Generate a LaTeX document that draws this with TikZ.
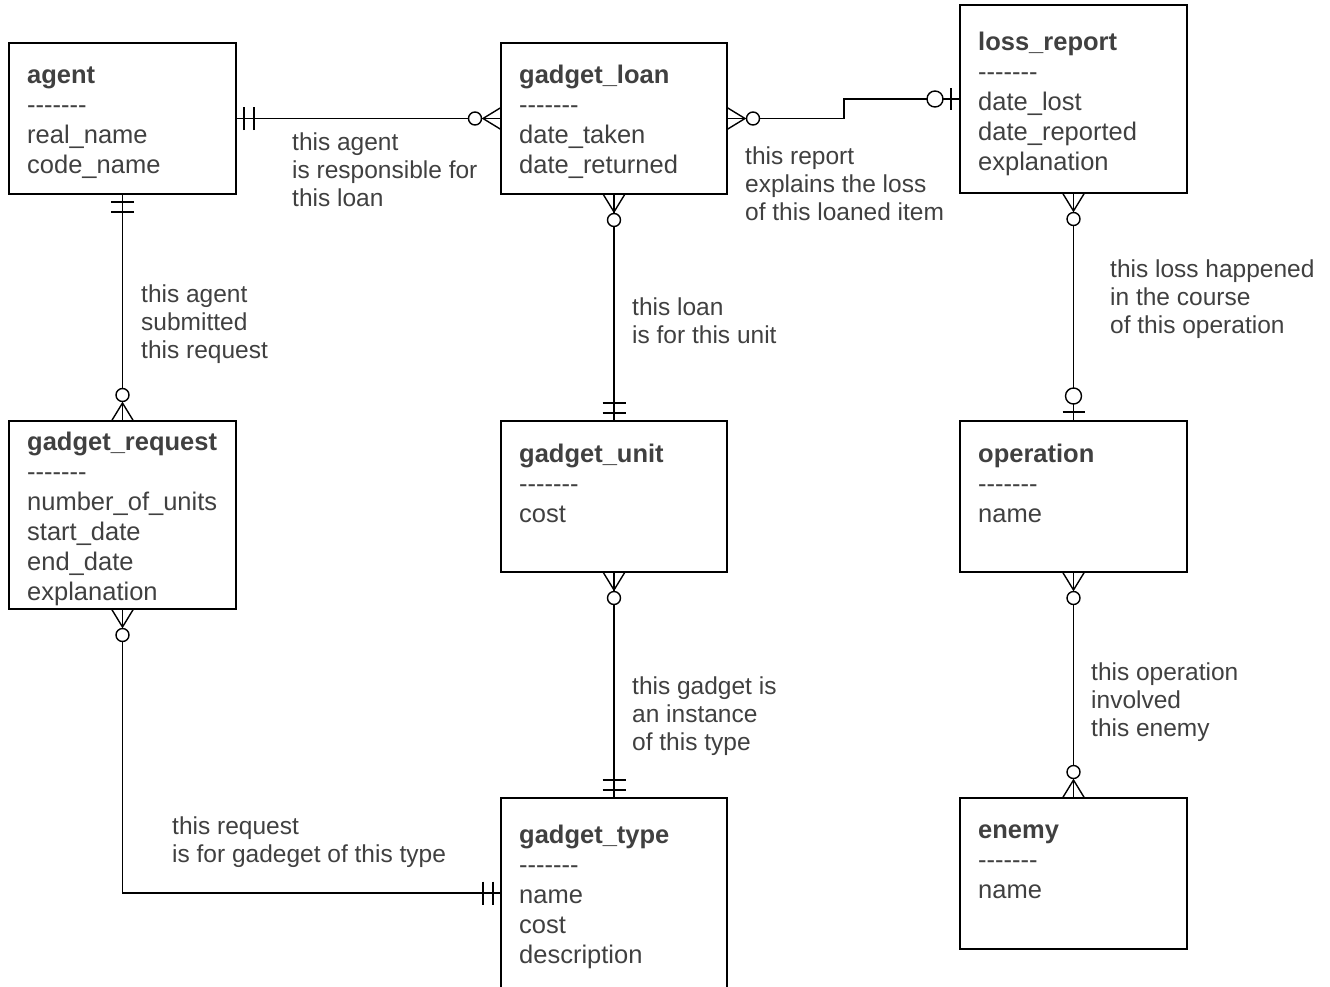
\documentclass[tikz,border=0pt]{standalone}
\usepackage{fontspec}
\setmainfont{Liberation Sans}
\usetikzlibrary{calc}
\definecolor{txt}{HTML}{404040}
\newcommand\dashrow{-{}-{}-{}-{}-{}-{}-}
% zero-or-many end: point, outward direction dx, dy
\newcommand\zmany[3]{%
  \draw[conn] ($(#1)+({18*(#2)},{18*(#3)})$) -- ($(#1)+({11*(#3)},{11*(#2)})$)
              ($(#1)+({18*(#2)},{18*(#3)})$) -- ($(#1)+({-11*(#3)},{-11*(#2)})$);
  \draw[conn,fill=white] ($(#1)+({26*(#2)},{26*(#3)})$) circle[radius=6.5pt];}
% exactly-one end
\newcommand\oneone[3]{%
  \draw[conn] ($(#1)+({8*(#2)+11.5*(#3)},{8*(#3)+11.5*(#2)})$) -- ($(#1)+({8*(#2)-11.5*(#3)},{8*(#3)-11.5*(#2)})$)
              ($(#1)+({18*(#2)+11.5*(#3)},{18*(#3)+11.5*(#2)})$) -- ($(#1)+({18*(#2)-11.5*(#3)},{18*(#3)-11.5*(#2)})$);}
% zero-or-one end
\newcommand\zone[3]{%
  \draw[conn] ($(#1)+({9*(#2)+11*(#3)},{9*(#3)+11*(#2)})$) -- ($(#1)+({9*(#2)-11*(#3)},{9*(#3)-11*(#2)})$);
  \draw[conn,fill=white] ($(#1)+({25*(#2)},{25*(#3)})$) circle[radius=8pt];}
\tikzset{
  ent/.style={draw=black, line width=1.2pt, inner sep=0pt, outer sep=0pt, anchor=north west},
  conn/.style={draw=black, line width=1.4pt},
  etext/.style={anchor=base west, align=left, inner sep=0pt, text=txt, font=\fontsize{25.5}{30}\selectfont},
  lbl/.style={anchor=base west, align=left, inner sep=0pt, text=txt, font=\fontsize{24.5}{28}\selectfont},
}
\begin{document}
\begin{tikzpicture}[x=1pt,y=-1pt]
\useasboundingbox (0,0) rectangle (1330,986);
\clip (0,0) rectangle (1330,986);
% entity boxes
\node[ent, minimum width=227pt, minimum height=151pt] (agent) at (9,43) {};
\node[ent, minimum width=226pt, minimum height=151pt] (loan) at (501,43) {};
\node[ent, minimum width=227pt, minimum height=188pt] (loss) at (960,5) {};
\node[ent, minimum width=227pt, minimum height=188pt] (request) at (9,421) {};
\node[ent, minimum width=226pt, minimum height=151pt] (unit) at (501,421) {};
\node[ent, minimum width=227pt, minimum height=151pt] (operation) at (960,421) {};
\node[ent, minimum width=226pt, minimum height=190pt] (type) at (501,798) {};
\node[ent, minimum width=227pt, minimum height=151pt] (enemy) at (960,798) {};
% entity texts (base = baseline of last line)
\node[etext] (agentT) at (27,173) {\textbf{agent}\\\dashrow\\real\_name\\code\_name};
\node[etext] (loanT) at (519,173) {\textbf{gadget\_loan}\\\dashrow\\date\_taken\\date\_returned};
\node[etext] (lossT) at (978,170) {\textbf{loss\_report}\\\dashrow\\date\_lost\\date\_reported\\explanation};
\node[etext] (requestT) at (27,600) {\textbf{gadget\_request}\\\dashrow\\number\_of\_units\\start\_date\\end\_date\\explanation};
\node[etext] (unitT) at (519,522) {\textbf{gadget\_unit}\\\dashrow\\cost};
\node[etext] (operationT) at (978,522) {\textbf{operation}\\\dashrow\\name};
\node[etext] (typeT) at (519,963) {\textbf{gadget\_type}\\\dashrow\\name\\cost\\description};
\node[etext] (enemyT) at (978,898) {\textbf{enemy}\\\dashrow\\name};
% connectors
\draw[conn] (agent.east) -- (loan.west);
\draw[conn] (loan.east) -- ($(loan.east)+(117,0)$) |- (loss.west);
\draw[conn] (agent.south) -- (request.north);
\draw[conn] (loan.south) -- (unit.north);
\draw[conn] (loss.south) -- (operation.north);
\draw[conn] (request.south) |- (type.west);
\draw[conn] (unit.south) -- (type.north);
\draw[conn] (operation.south) -- (enemy.north);
% ends
\oneone{agent.east}{1}{0}
\zmany{loan.west}{-1}{0}
\zmany{loan.east}{1}{0}
\zone{loss.west}{-1}{0}
\oneone{agent.south}{0}{1}
\zmany{request.north}{0}{-1}
\zmany{loan.south}{0}{1}
\oneone{unit.north}{0}{-1}
\zmany{loss.south}{0}{1}
\zone{operation.north}{0}{-1}
\zmany{request.south}{0}{1}
\oneone{type.west}{-1}{0}
\zmany{unit.south}{0}{1}
\oneone{type.north}{0}{-1}
\zmany{operation.south}{0}{1}
\zmany{enemy.north}{0}{-1}
% labels (base = baseline of last line)
\node[lbl] (l1) at (292,206) {this agent\\is responsible for\\this loan};
\node[lbl] (l2) at (745,220) {this report\\explains the loss\\of this loaned item};
\node[lbl] (l3) at (141,358) {this agent\\submitted\\this request};
\node[lbl] (l4) at (632,343) {this loan\\is for this unit};
\node[lbl] (l5) at (1110,333) {this loss happened\\in the course\\of this operation};
\node[lbl] (l6) at (632,750) {this gadget is\\an instance\\of this type};
\node[lbl] (l7) at (1091,736) {this operation\\involved\\this enemy};
\node[lbl] (l8) at (172,862) {this request\\is for gadeget of this type};
\end{tikzpicture}
\end{document}
